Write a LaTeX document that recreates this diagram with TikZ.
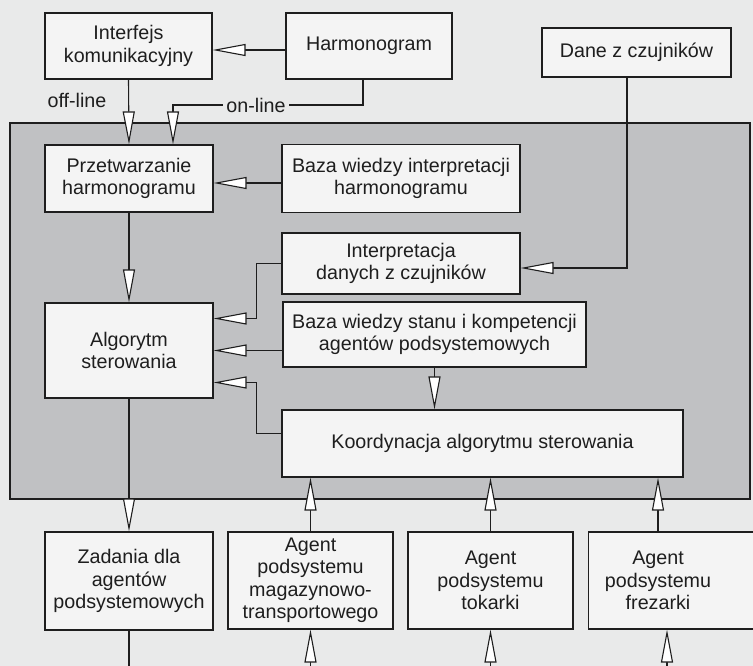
\documentclass[tikz,border=0pt]{standalone}
\usepackage{fontspec}
\setmainfont{Liberation Sans}
\usetikzlibrary{positioning, calc}
\usetikzlibrary{arrows.meta}

\definecolor{pagebg}{RGB}{233,234,234}
\definecolor{zonebg}{RGB}{192,193,195}
\definecolor{boxbg}{RGB}{244,244,244}
\definecolor{inkc}{RGB}{30,30,30}

\begin{document}
\begin{tikzpicture}[x=1pt,y=-1pt,draw=inkc,line width=1.1pt]
	\def \rowtop{46}
	\def \rowharm{178.5}
	\def \rowalgo{350.5}
	\def \rowagent{580.5}
	\tikzstyle{box-node}=[rectangle,draw=inkc,fill=boxbg,text=inkc,align=center,inner sep=0pt,font=\fontsize{19.7}{22.5}\selectfont]
	\tikzstyle{txt-node}=[align=center,text=inkc,inner sep=0pt,font=\fontsize{19.7}{22.5}\selectfont]
	\tikzstyle{lbl-node}=[fill=pagebg,text=inkc,inner xsep=3pt,inner ysep=1pt,font=\fontsize{19.7}{22.5}\selectfont]
	\tikzstyle{flow-edge}=[draw=inkc,-{Triangle[length=33pt,width=12pt,fill=white,line width=1.1pt]}]
	\tikzstyle{plain-edge}=[draw=inkc]

	% page and zone
	\useasboundingbox (0,0) rectangle (753,666);
	\fill[pagebg] (0,0) rectangle (753,666);
	\draw[fill=zonebg] (10,123) rectangle (750,499);
	\coordinate (bot) at (0,666);

	% inputs
	\node[box-node, minimum width=167pt, minimum height=66pt] (iface) at (128.5,\rowtop) {Interfejs\\komunikacyjny};
	\node[box-node, minimum width=166pt, minimum height=66pt] (harm) at (369,\rowtop) {Harmonogram};
	\node[box-node, minimum width=189pt, minimum height=49pt] (dane) at (636.5,52.5) {Dane z czujników};

	% controller
	\node[box-node, minimum width=168pt, minimum height=67pt] (przetw) at (129,\rowharm) {Przetwarzanie\\harmonogramu};
	\node[box-node, minimum width=238pt, minimum height=68pt] (bazaH) at (401,\rowharm) {Baza wiedzy interpretacji\\harmonogramu};
	\node[box-node, minimum width=238pt, minimum height=61pt] (interp) at (401,263.5) {Interpretacja\\danych z czujników};
	\node[box-node, minimum width=303pt, minimum height=65pt] (bazaS) at (434.5,334.5) {Baza wiedzy stanu i kompetencji\\agentów podsystemowych};
	\node[box-node, minimum width=168pt, minimum height=95pt] (algo) at (129,\rowalgo) {Algorytm\\sterowania};
	\node[box-node, minimum width=401pt, minimum height=67pt] (koord) at (482.5,443.5) {Koordynacja algorytmu sterowania};

	% agents
	\node[box-node, minimum width=168pt, minimum height=98pt] (zad) at (129,581) {Zadania dla\\agentów\\podsystemowych};
	\node[box-node, minimum width=165pt, minimum height=97pt] (mag) at (310.5,\rowagent) {Agent\\podsystemu\\magazynowo-\\transportowego};
	\node[box-node, minimum width=165pt, minimum height=97pt] (tok) at (490.5,\rowagent) {Agent\\podsystemu\\tokarki};
	\node[box-node, minimum width=177pt, minimum height=97pt, anchor=west] (frez) at (588,\rowagent) {};
	\node[txt-node] (frezlbl) at (658,\rowagent) {Agent\\podsystemu\\frezarki};

	% connectors
	\draw[flow-edge] ($(harm.west)+(0,4)$) -- ($(iface.east)+(0,4)$);
	\draw[flow-edge] (iface.south) -- (przetw.north);
	\node[lbl-node] (offlbl) at (77,100) {off-line};
	\coordinate (onA) at ($(harm.south)+(-6,0)$);
	\coordinate (onB) at (363,105);
	\coordinate (onC) at (173,105);
	\draw[flow-edge] (onA) -- (onB) -- (onC) -- (onC |- przetw.north);
	\node[lbl-node] (onlbl) at (256,105) {on-line};
	\coordinate (daneOut) at ($(dane.south)+(-9.5,0)$);
	\draw[flow-edge] (daneOut) |- ($(interp.east)+(0,4.5)$);
	\draw[flow-edge] ($(bazaH.west)+(0,4.5)$) -- ($(przetw.east)+(0,4.5)$);
	\draw[flow-edge] (przetw.south) -- (algo.north);
	\draw[flow-edge] (interp.west) -- ++(-25,0) |- ($(algo.east)+(0,-32)$);
	\draw[flow-edge] (bazaS.west |- algo.east) -- (algo.east);
	\draw[flow-edge] ($(koord.west)+(0,-10)$) -- ++(-25,0) |- ($(algo.east)+(0,32)$);
	\draw[flow-edge] (bazaS.south) -- (bazaS.south |- koord.north);
	\draw[flow-edge] (algo.south) -- (zad.north);
	\draw[flow-edge] (mag.north) -- (mag.north |- koord.south);
	\draw[flow-edge] (tok.north) -- (tok.north |- koord.south);
	\draw[flow-edge] (frezlbl |- frez.north) -- (frezlbl |- koord.south);
	\draw[plain-edge] (zad.south) -- (zad.south |- bot);
	\draw[flow-edge] (mag.south |- bot) -- (mag.south);
	\draw[flow-edge] (tok.south |- bot) -- (tok.south);
	\draw[flow-edge] ($(frezlbl |- bot)+(9,0)$) -- ($(frezlbl |- frez.south)+(9,0)$);
\end{tikzpicture}
\end{document}
